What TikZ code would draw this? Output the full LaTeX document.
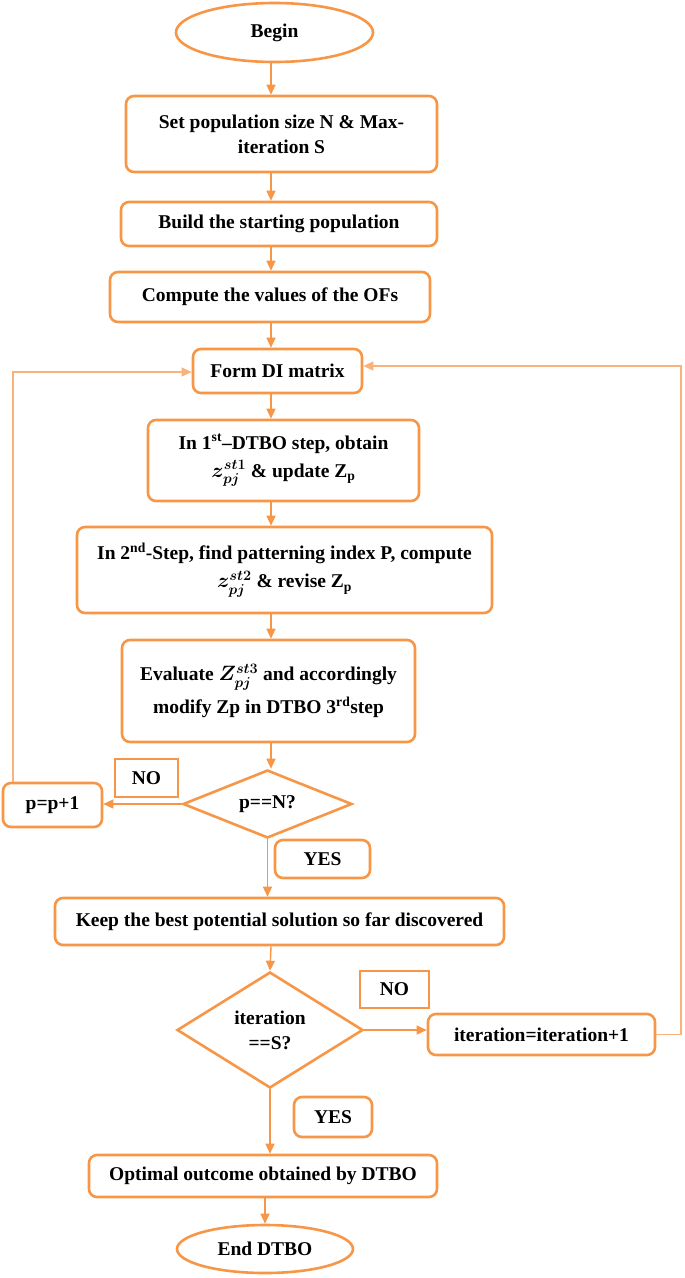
\documentclass[tikz,border=0pt]{standalone}
\usepackage{fontspec}
\setmainfont{Liberation Serif}
\usetikzlibrary{shapes.geometric,arrows.meta}
\definecolor{flow}{RGB}{247,150,70}
\definecolor{flowlight}{RGB}{250,178,124}

\begin{document}
\begin{tikzpicture}[x=1pt,y=1pt,yscale=-1,
  every node/.style={font=\fontsize{19.5}{25}\selectfont\bfseries\boldmath, align=center, inner sep=0pt},
  term/.style={ellipse, draw=flow, line width=2.6pt, fill=white},
  proc/.style={rectangle, rounded corners=8pt, draw=flow, line width=2.6pt},
  decide/.style={diamond, draw=flow, line width=2.6pt},
  tag/.style={rectangle, draw=flow, line width=2.6pt},
  arr/.style={draw=flow, line width=1.4pt, -{Triangle[length=10pt,width=9pt]}},
  back/.style={draw=flowlight, line width=1.2pt, -{Triangle[length=10pt,width=9pt]}}]
\path[use as bounding box] (0,0) rectangle (685,1278);

%Terminals and process boxes
\node[term, minimum width=197pt, minimum height=59pt] (start) at (274.5,32.5) {Begin};
\node[proc, minimum width=311pt, minimum height=76pt] (setpop) at (281.5,134) {Set population size N \& Max-\\iteration S};
\node[proc, minimum width=316pt, minimum height=44pt] (build) at (279,224) {Build the starting population};
\node[proc, minimum width=320pt, minimum height=50pt] (compute) at (270,297) {Compute the values of the OFs};
\node[proc, minimum width=169pt, minimum height=44pt] (formdi) at (277.5,371) {Form DI matrix};
\node[proc, minimum width=271pt, minimum height=81pt] (firststep) at (283.5,460.5) {In 1\textsuperscript{st}--DTBO step, obtain\\[3pt] $z^{st1}_{pj}$ \& update Z\textsubscript{p}};
\node[proc, minimum width=415pt, minimum height=86pt] (secondstep) at (284.5,570) {In 2\textsuperscript{nd}-Step, find patterning index P, compute\\[3pt] $z^{st2}_{pj}$ \& revise Z\textsubscript{p}};
\node[proc, minimum width=293pt, minimum height=102pt] (thirdstep) at (268.5,691) {Evaluate $Z^{st3}_{pj}$ and accordingly\\[6pt] modify Zp in DTBO 3\textsuperscript{rd}step};

%First decision
\node[decide, shape aspect=2.5, minimum width=169pt, minimum height=68pt] (checkp) at (267.5,804) {p==N?};
\node[tag, minimum width=63pt, minimum height=38pt] (nop) at (146.5,778) {NO};
\node[proc, minimum width=99pt, minimum height=44pt] (incp) at (52.5,805) {p=p+1};
\node[proc, minimum width=95pt, minimum height=38pt] (yesp) at (322.5,859) {YES};
\node[proc, minimum width=449pt, minimum height=47pt] (keep) at (279.5,921.5) {Keep the best potential solution so far discovered};

%Second decision
\node[decide, shape aspect=1.6, minimum width=186pt, minimum height=116pt] (checkit) at (270,1030) {iteration\\==S?};
\node[tag, minimum width=69pt, minimum height=37pt] (noit) at (394.5,989.5) {NO};
\node[proc, minimum width=227pt, minimum height=41pt] (incit) at (541.5,1034.5) {iteration=iteration+1};
\node[proc, minimum width=78pt, minimum height=40pt] (yesit) at (333,1117) {YES};
\node[proc, minimum width=348pt, minimum height=42pt] (optimal) at (263,1176) {Optimal outcome obtained by DTBO};
\node[term, minimum width=176pt, minimum height=48pt] (finish) at (265,1249) {End DTBO};

%Main column of arrows
\coordinate (col) at (271,0);
\draw[arr] (start.south -| col) -- (setpop.north -| col);
\draw[arr] (setpop.south -| col) -- (build.north -| col);
\draw[arr] (build.south -| col) -- (compute.north -| col);
\draw[arr] (compute.south -| col) -- (formdi.north -| col);
\draw[arr] (formdi.south -| col) -- (firststep.north -| col);
\draw[arr] (firststep.south -| col) -- (secondstep.north -| col);
\draw[arr] (secondstep.south -| col) -- (thirdstep.north -| col);
\draw[arr] (thirdstep.south -| col) -- (checkp.north -| col);
\draw[arr] (checkp.south) -- (keep.north -| checkp.south);
\draw[arr] (keep.south -| col) -- (checkit.north);
\draw[arr] (checkit.south) -- (optimal.north -| checkit.south);
\draw[arr] (optimal.south -| finish.north) -- (finish.north);

%Side branches and loops back
\draw[arr] (checkp.west) -- (checkp.west -| incp.east);
\draw[arr] (checkit.east) -- (checkit.east -| incit.west);
\coordinate (pl) at (13,372);
\coordinate (pr) at (681,366);
\draw[back] (incp.north -| pl) -- (pl) -- (pl -| formdi.west);
\draw[back] (incit.east) -| (pr) -- (pr -| formdi.east);

\end{tikzpicture}
\end{document}
